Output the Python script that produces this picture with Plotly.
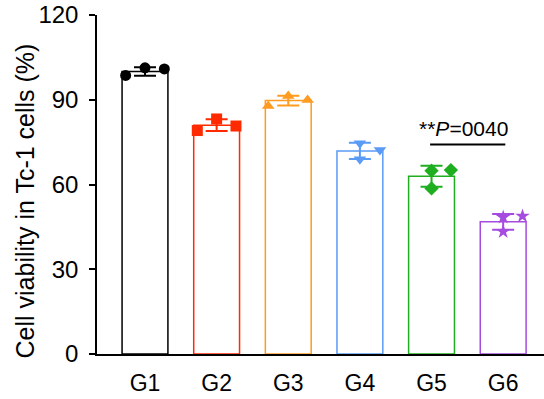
import plotly.graph_objects as go

groups = ["G1", "G2", "G3", "G4", "G5", "G6"]
means = [100.0, 81.0, 89.7, 71.9, 62.9, 46.8]
errors = [1.5, 2.1, 1.7, 2.9, 3.7, 2.8]
points = [
    [98.6, 101.3, 100.9],
    [79.1, 83.2, 80.7],
    [87.8, 91.3, 89.9],
    [74.6, 68.9, 72.2],
    [64.9, 58.6, 65.1],
    [48.4, 43.3, 48.8],
]
point_offsets = [
    [-0.27, 0.0, 0.27],
    [-0.27, 0.0, 0.27],
    [-0.28, 0.0, 0.27],
    [0.0, 0.0, 0.28],
    [0.0, 0.0, 0.27],
    [0.0, 0.0, 0.27],
]
colors = ["#000000", "#FF2A00", "#FF9B21", "#5A9BF6", "#1FAE1F", "#A64BE0"]
symbols = ["circle", "square", "triangle-up", "triangle-down", "diamond", "star"]
sig_pair = ("G5", "G6")
sig_text = "**<i>P</i>=0040"
sig_level = 74.2
y_title = "Cell viability in Tc-1 cells (%)"

FONT = "Liberation Sans, Arial, sans-serif"

fig = go.Figure()
xs = list(range(len(groups)))
for i, g in enumerate(groups):
    fig.add_trace(go.Bar(
        x=[xs[i]], y=[means[i]], width=0.64,
        marker=dict(color="white", line=dict(color=colors[i], width=1.5)),
        error_y=dict(type="data", array=[errors[i]], color=colors[i],
                     thickness=2, width=11),
        showlegend=False,
    ))
for i, g in enumerate(groups):
    fig.add_trace(go.Scatter(
        x=[xs[i] + o for o in point_offsets[i]], y=points[i], mode="markers",
        marker=dict(symbol=symbols[i], color=colors[i], size=11,
                    line=dict(width=0)),
        showlegend=False, cliponaxis=False,
    ))

a = groups.index(sig_pair[0])
b = groups.index(sig_pair[1])
fig.add_shape(type="line", xref="x", yref="y", x0=a - 0.02, x1=b + 0.03,
              y0=sig_level, y1=sig_level, line=dict(color="black", width=2))
fig.add_annotation(x=(a + b) / 2 - 0.05, y=sig_level + 0.8, xref="x", yref="y",
                   text=sig_text, showarrow=False, yanchor="bottom",
                   font=dict(family=FONT, size=21, color="black"))
fig.add_annotation(x=-0.161, y=0.45, xref="paper", yref="paper",
                   text=y_title, textangle=-90, showarrow=False,
                   xanchor="center", yanchor="middle",
                   font=dict(family=FONT, size=25, color="black"))

fig.update_layout(
    width=544, height=399,
    margin=dict(l=97, r=0, t=15, b=45),
    paper_bgcolor="white", plot_bgcolor="white",
    font=dict(family=FONT, color="black"),
    barmode="overlay",
)
fig.update_xaxes(
    range=[-0.67, 5.57], tickvals=xs, ticktext=groups,
    showline=True, linecolor="black", linewidth=1.5, ticks="",
    showgrid=False, zeroline=False, ticklabelstandoff=8,
    tickfont=dict(family=FONT, size=23, color="black"),
)
fig.update_yaxes(
    range=[0, 120], tickvals=[0, 30, 60, 90, 120],
    showline=True, linecolor="black", linewidth=1.5,
    ticks="outside", ticklen=6, tickwidth=1.5, tickcolor="black",
    showgrid=False, zeroline=False, ticklabelstandoff=6,
    tickfont=dict(family=FONT, size=24, color="black"),
)

fig.write_html("out.html")
